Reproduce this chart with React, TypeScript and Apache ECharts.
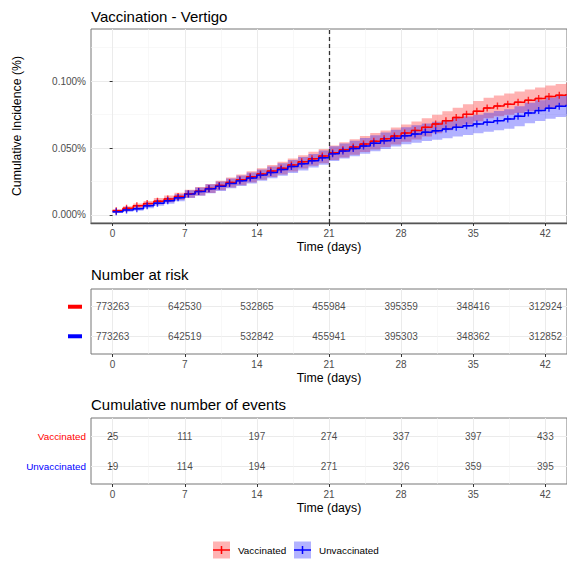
import React, { useEffect, useRef } from "react";
import * as echarts from "echarts";

// ---- data ----
const days = [0, 1, 2, 3, 4, 5, 6, 7, 8, 9, 10, 11, 12, 13, 14, 15, 16, 17, 18, 19, 20, 21, 22, 23, 24, 25, 26, 27, 28, 29, 30, 31, 32, 33, 34, 35, 36, 37, 38, 39, 40, 41, 42, 43, 44];

// cumulative incidence (%)
const vaccinated = [
  0.0032, 0.005, 0.0068, 0.0085, 0.0103, 0.012, 0.0139, 0.0159,
  0.0178, 0.0198, 0.022, 0.0243, 0.0263, 0.0285, 0.0306,
  0.0328, 0.035, 0.0373, 0.0397, 0.042, 0.044, 0.0465,
  0.0487, 0.0508, 0.053, 0.0551, 0.057, 0.059, 0.0612,
  0.0632, 0.0655, 0.068, 0.0705, 0.0728, 0.0752, 0.0776,
  0.08, 0.0815, 0.0828, 0.0842, 0.0857, 0.0871, 0.0885, 0.0895, 0.0904,
];
const unvaccinated = [
  0.0025, 0.0038, 0.0046, 0.0068, 0.0088, 0.0106, 0.0128, 0.0156,
  0.0175, 0.0196, 0.0215, 0.0236, 0.0256, 0.0276, 0.0298,
  0.0318, 0.034, 0.0362, 0.0383, 0.0405, 0.0428, 0.0458,
  0.0478, 0.0497, 0.0516, 0.0536, 0.0555, 0.0574, 0.0592,
  0.0605, 0.0618, 0.063, 0.0642, 0.0655, 0.0667, 0.068,
  0.0693, 0.0705, 0.0718, 0.0738, 0.0762, 0.078, 0.0798, 0.0812, 0.0824,
];
// 95% CI half widths (%)
const vaccinatedCI = [
  0.0013, 0.0015, 0.0018, 0.002, 0.0023, 0.0025, 0.0028, 0.003,
  0.0032, 0.0034, 0.0036, 0.0038, 0.004, 0.0042, 0.0043,
  0.0045, 0.0047, 0.0049, 0.005, 0.0052, 0.0053, 0.0055,
  0.0057, 0.0058, 0.006, 0.0061, 0.0062, 0.0064, 0.0065,
  0.0067, 0.0068, 0.007, 0.0071, 0.0073, 0.0075, 0.0076,
  0.0077, 0.0078, 0.0079, 0.008, 0.0081, 0.0082, 0.0083, 0.0084, 0.0085,
];
const unvaccinatedCI = [
  0.0011, 0.0013, 0.0014, 0.0017, 0.002, 0.0023, 0.0026, 0.0029,
  0.0031, 0.0033, 0.0035, 0.0037, 0.0039, 0.0041, 0.0042,
  0.0044, 0.0046, 0.0048, 0.005, 0.0051, 0.0053, 0.0055,
  0.0056, 0.0058, 0.0059, 0.006, 0.0062, 0.0063, 0.0064,
  0.0065, 0.0066, 0.0067, 0.0068, 0.0068, 0.0069, 0.007,
  0.0071, 0.0072, 0.0073, 0.0074, 0.0076, 0.0077, 0.0079, 0.008, 0.0081,
];

const tableDays = [0, 7, 14, 21, 28, 35, 42];
const riskVaccinated = [773263, 642530, 532865, 455984, 395359, 348416, 312924];
const riskUnvaccinated = [773263, 642519, 532842, 455941, 395303, 348362, 312852];
const eventsVaccinated = [25, 111, 197, 274, 337, 397, 433];
const eventsUnvaccinated = [19, 114, 194, 271, 326, 359, 395];

const majorX = [0, 7, 14, 21, 28, 35, 42];
const minorX = [3.5, 10.5, 17.5, 24.5, 31.5, 38.5];
const majorY = [0, 0.05, 0.1];
const minorY = [0.025, 0.075, 0.125];
const vaccineDay = 21;

// ---- styling ----
const FONT = '"Liberation Sans", Arial, Helvetica, sans-serif';
const RED = "#ff0000";
const BLUE = "#0000ff";
const X_MIN = -2.1;
const X_MAX = 44.1;
const GRID_LEFT = 91;
const GRID_WIDTH = 483;
const PLUS = "path://M4,0 H6 V4 H10 V6 H6 V10 H4 V6 H0 V4 H4 Z";

function xAxesFor(gridIndex: number, axisLineShow: boolean) {
  return [
    {
      type: "value",
      gridIndex,
      min: X_MIN,
      max: X_MAX,
      axisLine: { show: axisLineShow, onZero: false, lineStyle: { color: "#555", width: 1.3 } },
      axisTick: { show: true, length: 3, customValues: majorX, lineStyle: { color: "#333" } },
      axisLabel: { customValues: majorX, fontSize: 10, color: "#4d4d4d", margin: 5, fontFamily: FONT },
      splitLine: { show: true, lineStyle: { color: "#ebebeb", width: 1 } },
      name: "Time (days)",
      nameLocation: "middle",
      nameGap: 18,
      nameTextStyle: { fontSize: 12.3, color: "#000", fontFamily: FONT },
    },
    {
      type: "value",
      gridIndex,
      min: X_MIN,
      max: X_MAX,
      position: "top",
      axisLine: { show: false },
      axisTick: { show: false, customValues: minorX },
      axisLabel: { show: false, customValues: minorX },
      splitLine: { show: true, lineStyle: { color: "#f4f4f4", width: 0.6 } },
    },
  ];
}

function stepPairs(vals: number[]) {
  return days.map((d, i) => [d, vals[i]]);
}

// step-shaped confidence band drawn as one polygon through the axis scales
function bandSeries(vals: number[], ci: number[], fill: string) {
  return {
    type: "custom",
    xAxisIndex: 0,
    yAxisIndex: 0,
    silent: true,
    z: 2,
    data: days.map((d, i) => [d, vals[i] - ci[i], vals[i] + ci[i]]),
    encode: { x: 0, y: [1, 2] },
    renderItem: (params: any, api: any) => {
      if (params.dataIndex !== 0) return null;
      const n = days.length;
      const pts: number[][] = [];
      for (let i = 0; i < n; i++) {
        const x0 = days[i];
        const x1 = i < n - 1 ? days[i + 1] : days[i] + 1;
        const hi = vals[i] + ci[i];
        pts.push(api.coord([x0, hi]));
        pts.push(api.coord([x1, hi]));
      }
      for (let i = n - 1; i >= 0; i--) {
        const x0 = days[i];
        const x1 = i < n - 1 ? days[i + 1] : days[i] + 1;
        const lo = vals[i] - ci[i];
        pts.push(api.coord([x1, lo]));
        pts.push(api.coord([x0, lo]));
      }
      return { type: "polygon", shape: { points: pts }, style: { fill } };
    },
  };
}

export default function App() {
  const ref = useRef<HTMLDivElement>(null);
  useEffect(() => {
    if (!ref.current) return;
    const chart = echarts.init(ref.current, undefined, { renderer: "svg" });

    const textStyleBase = { fontSize: 10, color: "#1a1a1a", fontFamily: FONT };

    const option: any = {
      animation: false,
      backgroundColor: "#ffffff",
      grid: [
        { left: GRID_LEFT, top: 29, width: GRID_WIDTH, height: 194, show: true, borderColor: "#777", borderWidth: 1 },
        { left: GRID_LEFT, top: 289, width: GRID_WIDTH, height: 65, show: true, borderColor: "#777", borderWidth: 1 },
        { left: GRID_LEFT, top: 418, width: GRID_WIDTH, height: 66, show: true, borderColor: "#777", borderWidth: 1 },
      ],
      xAxis: [...xAxesFor(0, true), ...xAxesFor(1, false), ...xAxesFor(2, false)],
      yAxis: [
        {
          type: "value",
          gridIndex: 0,
          min: -0.006,
          max: 0.139,
          axisLine: { show: false },
          axisTick: { show: true, length: 3, customValues: majorY, lineStyle: { color: "#333" } },
          axisLabel: {
            customValues: majorY,
            formatter: (v: number) => v.toFixed(3) + "%",
            fontSize: 10,
            color: "#4d4d4d",
            margin: 5,
            fontFamily: FONT,
          },
          splitLine: { show: true, lineStyle: { color: "#ebebeb", width: 1 } },
          name: "Cumulative Incidence (%)",
          nameLocation: "middle",
          nameRotate: 90,
          nameGap: 68,
          nameTextStyle: { fontSize: 12.3, color: "#000", fontFamily: FONT },
        },
        {
          type: "value",
          gridIndex: 0,
          min: -0.006,
          max: 0.139,
          position: "right",
          axisLine: { show: false },
          axisTick: { show: false, customValues: minorY },
          axisLabel: { show: false, customValues: minorY },
          splitLine: { show: true, lineStyle: { color: "#f4f4f4", width: 0.6 } },
        },
        {
          type: "value",
          gridIndex: 1,
          min: 0.4,
          max: 2.6,
          axisLine: { show: false },
          axisTick: { show: false, customValues: [1, 2] },
          axisLabel: {
            customValues: [1, 2],
            margin: 9,
            formatter: (v: number) => (Math.round(v) === 2 ? "{r|}" : "{b|}"),
            rich: {
              r: { width: 14, height: 4, backgroundColor: RED },
              b: { width: 14, height: 4, backgroundColor: BLUE },
            },
          },
          splitLine: { show: true, lineStyle: { color: "#ebebeb", width: 1 } },
        },
        {
          type: "value",
          gridIndex: 2,
          min: 0.4,
          max: 2.6,
          axisLine: { show: false },
          axisTick: { show: true, length: 3, customValues: [1, 2], lineStyle: { color: "#333" } },
          axisLabel: {
            customValues: [1, 2],
            margin: 5,
            formatter: (v: number) => (Math.round(v) === 2 ? "{v|Vaccinated}" : "{u|Unvaccinated}"),
            rich: {
              v: { color: RED, fontSize: 9.9, fontFamily: FONT },
              u: { color: BLUE, fontSize: 9.9, fontFamily: FONT },
            },
          },
          splitLine: { show: true, lineStyle: { color: "#ebebeb", width: 1 } },
        },
      ],
      series: [
        bandSeries(vaccinated, vaccinatedCI, "rgba(255,0,0,0.3)"),
        bandSeries(unvaccinated, unvaccinatedCI, "rgba(0,0,255,0.3)"),
        {
          name: "Vaccinated", type: "line", xAxisIndex: 0, yAxisIndex: 0, step: "end",
          data: stepPairs(vaccinated), symbol: "none", lineStyle: { color: RED, width: 1.5 }, z: 3,
          markLine: {
            silent: true,
            symbol: ["none", "none"],
            label: { show: false },
            lineStyle: { color: "#333", type: [4, 3], width: 1.3 },
            data: [{ xAxis: vaccineDay }],
          },
        },
        {
          name: "Unvaccinated", type: "line", xAxisIndex: 0, yAxisIndex: 0, step: "end",
          data: stepPairs(unvaccinated), symbol: "none", lineStyle: { color: BLUE, width: 1.5 }, z: 3,
        },
        {
          type: "scatter", xAxisIndex: 0, yAxisIndex: 0,
          data: days.map((d, i) => [d + 0.35, vaccinated[i]]),
          symbol: PLUS, symbolSize: 7, itemStyle: { color: RED }, z: 4, silent: true,
        },
        {
          type: "scatter", xAxisIndex: 0, yAxisIndex: 0,
          data: days.map((d, i) => [d + 0.35, unvaccinated[i]]),
          symbol: PLUS, symbolSize: 7, itemStyle: { color: BLUE }, z: 4, silent: true,
        },
        {
          type: "scatter", xAxisIndex: 2, yAxisIndex: 2,
          data: [
            ...tableDays.map((d, i) => [d, 2, riskVaccinated[i]]),
            ...tableDays.map((d, i) => [d, 1, riskUnvaccinated[i]]),
          ],
          symbolSize: 0, silent: true, clip: false,
          label: { show: true, position: "inside", formatter: (p: any) => String(p.value[2]), ...textStyleBase },
        },
        {
          type: "scatter", xAxisIndex: 4, yAxisIndex: 3,
          data: [
            ...tableDays.map((d, i) => [d, 2, eventsVaccinated[i]]),
            ...tableDays.map((d, i) => [d, 1, eventsUnvaccinated[i]]),
          ],
          symbolSize: 0, silent: true, clip: false,
          label: { show: true, position: "inside", formatter: (p: any) => String(p.value[2]), ...textStyleBase },
        },
      ],
      graphic: [
        { type: "text", x: 91, y: 16, style: { text: "Vaccination - Vertigo", fill: "#000", fontSize: 15, fontFamily: FONT, verticalAlign: "middle", align: "left" } },
        { type: "text", x: 91, y: 274, style: { text: "Number at risk", fill: "#000", fontSize: 15, fontFamily: FONT, verticalAlign: "middle", align: "left" } },
        { type: "text", x: 91, y: 404, style: { text: "Cumulative number of events", fill: "#000", fontSize: 15, fontFamily: FONT, verticalAlign: "middle", align: "left" } },
        // legend
        { type: "rect", shape: { x: 213, y: 541.5, width: 17, height: 17 }, style: { fill: "rgba(255,0,0,0.3)" } },
        { type: "line", shape: { x1: 213, y1: 550, x2: 230, y2: 550 }, style: { stroke: RED, lineWidth: 1.5 } },
        { type: "line", shape: { x1: 221.5, y1: 546, x2: 221.5, y2: 554 }, style: { stroke: RED, lineWidth: 1.5 } },
        { type: "text", x: 238, y: 550, style: { text: "Vaccinated", fill: "#000", fontSize: 9.9, fontFamily: FONT, verticalAlign: "middle", align: "left" } },
        { type: "rect", shape: { x: 294, y: 541.5, width: 17, height: 17 }, style: { fill: "rgba(0,0,255,0.3)" } },
        { type: "line", shape: { x1: 294, y1: 550, x2: 311, y2: 550 }, style: { stroke: BLUE, lineWidth: 1.5 } },
        { type: "line", shape: { x1: 302.5, y1: 546, x2: 302.5, y2: 554 }, style: { stroke: BLUE, lineWidth: 1.5 } },
        { type: "text", x: 319, y: 550, style: { text: "Unvaccinated", fill: "#000", fontSize: 9.9, fontFamily: FONT, verticalAlign: "middle", align: "left" } },
      ],
    };

    chart.setOption(option);
    return () => chart.dispose();
  }, []);

  return (
    <div
      ref={ref}
      style={{ position: "absolute", left: 0, top: 0, width: 567, height: 563, background: "#fff" }}
    />
  );
}
